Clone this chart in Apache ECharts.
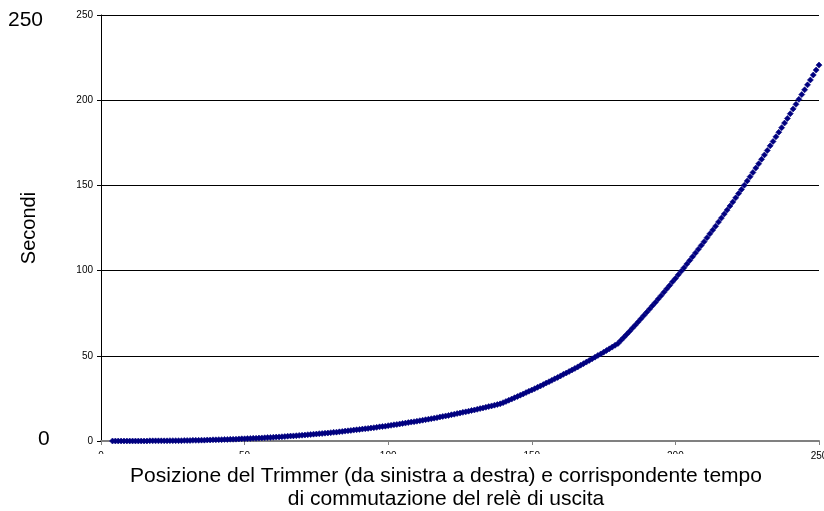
<!DOCTYPE html>
<html>
<head>
<meta charset="utf-8">
<script src="https://cdn.jsdelivr.net/npm/echarts@6/dist/echarts.min.js"></script>
<style>html,body{margin:0;padding:0;background:#fff}#c{width:824px;height:511px}</style>
</head>
<body>
<div id="c"></div>
<script>
// Trimmer positions: segment starts
var seg1Start = 4;
var seg1Values = [0,0,0,0,0,0,0,0,0,0,
  0,0,0,0.1,0.1, 0.1,0.1,0.1,0.1,0.1, 0.2,0.2,0.2,0.2,0.2, 0.3,0.3,0.3,0.4,0.4,
  0.4,0.5,0.5,0.6,0.6, 0.7,0.7,0.8,0.8,0.9, 0.9,1.0,1.0,1.1,1.2, 1.3,1.3,1.4,1.5,1.6,
  1.6,1.7,1.8,1.9,2.0, 2.1,2.2,2.3,2.4,2.5, 2.6,2.8,2.9,3.0,3.1, 3.3,3.4,3.5,3.7,3.8,
  4.0,4.1,4.3,4.4,4.6, 4.7,4.9,5.1,5.2,5.4, 5.6,5.8,6.0,6.2,6.4, 6.6,6.8,7.0,7.2,7.4,
  7.6,7.8,8.0,8.3,8.5, 8.7,9.0,9.2,9.5,9.7, 10.0,10.3,10.5,10.8,11.1, 11.3,11.6,11.9,12.2,12.5,
  12.8,13.1,13.4,13.7,14.1, 14.4,14.7,15.0,15.4,15.7, 16.1,16.4,16.8,17.1,17.5, 17.9,18.2,18.6,19.0,19.4,
  19.8,20.2,20.6,21.0,21.4, 21.8];
var seg2Start = 140;
var seg2Values = [22.5,23.2,23.9,24.6,25.4,26.1,26.9,27.6,28.4,29.2,29.9,30.7,31.5,32.3,33.1,34.0,34.8,35.6,36.5,37.3,
  38.2,39.1,39.9,40.8,41.7,42.6,43.5,44.5,45.4,46.3,47.3,48.2,49.2,50.2,51.1,52.1,53.1,54.1,55.1,56.2,57.2];
var seg3Start = 181;
var seg3Values = [59.0,60.7,62.5,64.3,66.2,68.0,69.8,71.7,73.6,75.5,77.4,79.4,81.3,83.3,85.3,87.3,89.3,91.3,93.4,95.4,
  97.5,99.6,101.7,103.9,106.0,108.2,110.4,112.6,114.8,117.0,119.3,121.6,123.8,126.1,128.5,130.8,133.2,135.5,137.9,140.3,
  142.7,145.2,147.6,150.1,152.6,155.1,157.6,160.2,162.7,165.3,167.9,170.5,173.2,175.8,178.5,181.2,183.9,186.6,189.3,192.1,
  194.9,197.6,200.5,203.3,206.1,209.0,211.9,214.8,217.7,220.6];

var xTicks = [0, 50, 100, 150, 200, 250];
var yTicks = [0, 50, 100, 150, 200, 250];
var yAxisTitle = 'Secondi';
var xAxisTitleLines = ['Posizione del Trimmer (da sinistra a destra) e corrispondente tempo', 'di commutazione del relè di uscita'];
var bigTopLabel = '250';
var bigBottomLabel = '0';

var points = [];
function addSeg(start, vals){ for (var i=0;i<vals.length;i++) points.push([start+i, vals[i]]); }
addSeg(seg1Start, seg1Values); addSeg(seg2Start, seg2Values); addSeg(seg3Start, seg3Values);

var FONT = '"Liberation Sans", Arial, sans-serif';
var chart = echarts.init(document.getElementById('c'), null, {renderer:'canvas'});
chart.setOption({
  animation: false,
  backgroundColor: '#fff',
  grid: {left: 101, right: 5, top: 15, bottom: 70, containLabel: false, outerBoundsMode: 'none'},
  xAxis: {
    type: 'value', min: xTicks[0], max: xTicks[xTicks.length-1], interval: 50,
    axisLine: {show: true, onZero: false, lineStyle: {color: '#808080', width: 2}},
    axisTick: {show: true, length: 4, lineStyle: {color: '#808080'}},
    axisLabel: {fontSize: 10, color: '#000', fontFamily: FONT, margin: 10, showMaxLabel: true, showMinLabel: true, hideOverlap: false},
    splitLine: {show: false}
  },
  yAxis: {
    type: 'value', min: yTicks[0], max: yTicks[yTicks.length-1], interval: 50,
    axisLine: {show: true, lineStyle: {color: '#000', width: 1}},
    axisTick: {show: true, length: 4, lineStyle: {color: '#000'}},
    axisLabel: {fontSize: 10, color: '#000', fontFamily: FONT, margin: 8},
    splitLine: {show: true, lineStyle: {color: '#000', width: 1}},
    name: yAxisTitle, nameLocation: 'middle', nameGap: 62, nameRotate: 90,
    nameTextStyle: {fontSize: 20, color: '#000', fontFamily: FONT}
  },
  graphic: [
    {type: 'rect', left: 92, top: 454, z: 50, shape: {width: 695, height: 57}, style: {fill: '#fff'}},
    {type: 'text', x: 446, y: 476, z: 51, style: {text: xAxisTitleLines[0], font: '21px "Liberation Sans", Arial', fill: '#000', align: 'center', verticalAlign: 'middle'}},
    {type: 'text', x: 446, y: 499, z: 51, style: {text: xAxisTitleLines[1], font: '21px "Liberation Sans", Arial', fill: '#000', align: 'center', verticalAlign: 'middle'}},
    {type: 'text', left: 8, top: 10, style: {text: bigTopLabel, font: '21px "Liberation Sans", Arial', fill: '#000'}},
    {type: 'text', left: 38, top: 429, style: {text: bigBottomLabel, font: '21px "Liberation Sans", Arial', fill: '#000'}}
  ],
  series: [{
    type: 'scatter', data: points, symbol: 'diamond', symbolSize: 6,
    itemStyle: {color: '#000080', opacity: 1, borderColor: '#000080', borderWidth: 0.6}, clip: false, z: 3
  }]
});
</script>
</body>
</html>
